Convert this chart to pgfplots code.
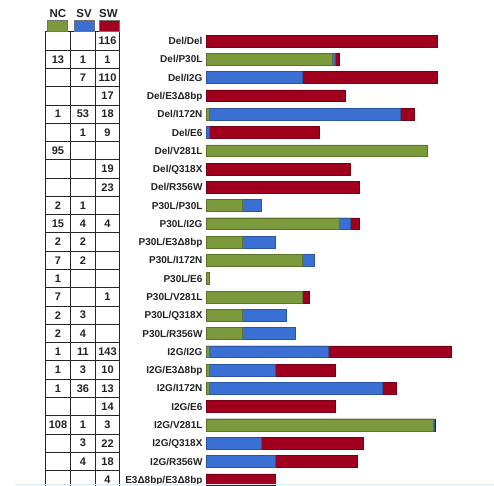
\documentclass[border=0pt]{standalone}
\usepackage{pgfplots}
\pgfplotsset{compat=1.18}
\usepackage{fontspec}
\setmainfont{Liberation Sans}
\definecolor{gNC}{HTML}{7A9A3C}
\definecolor{bSV}{HTML}{3A70D4}
\definecolor{rSW}{HTML}{A0001E}
\definecolor{tx}{HTML}{222222}
\begin{document}
\begin{tikzpicture}[x=1pt,y=1pt]
\useasboundingbox (0,0) rectangle (494,485);
\begin{axis}[
  at={(206pt,-3.86pt)}, anchor=south west,
  scale only axis, width=274pt, height=457pt,
  xmode=log, log origin x=infty, xmin=0.9394, xmax=283.5,
  ymin=0.5, ymax=25.5, y dir=reverse,
  hide x axis,
  axis y line*=left, y axis line style={draw=none},
  ytick={1,...,25}, major tick length=0pt,
  yticklabels={Del/Del, Del/P30L, Del/I2G, Del/E3Δ8bp, Del/I172N, Del/E6, Del/V281L, Del/Q318X, Del/R356W, P30L/P30L, P30L/I2G, P30L/E3Δ8bp, P30L/I172N, P30L/E6, P30L/V281L, P30L/Q318X, P30L/R356W, I2G/I2G, I2G/E3Δ8bp, I2G/I172N, I2G/E6, I2G/V281L, I2G/Q318X, I2G/R356W, E3Δ8bp/E3Δ8bp},
  yticklabel style={font=\bfseries\fontsize{10}{12}\selectfont, text=tx, text depth=0pt, text height=7.2pt},
  xbar, bar width=11.8pt,
  clip=false,
]
% SW (cumulative total)
\addplot[draw=rSW!75!black, line width=0.5pt, fill=rSW, bar shift=0pt] coordinates {
 (116,1) (15,2) (117,3) (17,4) (72,5) (10,6) (19,8) (23,9) (23,11) (8,15)
 (155,18) (14,19) (50,20) (14,21) (112,22) (25,23) (22,24) (4,25)};
% SV (cumulative NC+SV)
\addplot[draw=bSV!75!black, line width=0.5pt, fill=bSV, bar shift=0pt] coordinates {
 (14,2) (7,3) (54,5) (1,6) (3,10) (19,11) (4,12) (9,13) (5,16) (6,17)
 (12,18) (4,19) (37,20) (109,22) (3,23) (4,24)};
% NC
\addplot[draw=gNC!75!black, line width=0.5pt, fill=gNC, bar shift=0pt] coordinates {
 (13,2) (1,5) (95,7) (2,10) (15,11) (2,12) (7,13) (1,14) (7,15) (2,16)
 (2,17) (1,18) (1,19) (1,20) (108,22)};
\end{axis}
% table
\begin{scope}[line width=0.9pt, draw=black!85]
\foreach \xx in {45,70,95.7,119} \draw (\xx,453.14) -- (\xx,-5);
\foreach \r in {0,...,24} \draw (45,{453.14-\r*18.28}) -- (119,{453.14-\r*18.28});
\end{scope}
\foreach \r/\a/\b/\c in {1///116, 2/13/1/1, 3//7/110, 4///17, 5/1/53/18, 6//1/9, 7/95//, 8///19, 9///23, 10/2/1/, 11/15/4/4, 12/2/2/, 13/7/2/, 14/1//, 15/7//1, 16/2/3/, 17/2/4/, 18/1/11/143, 19/1/3/10, 20/1/36/13, 21///14, 22/108/1/3, 23//3/22, 24//4/18, 25///4}
{
 \pgfmathsetmacro\yy{444-(\r-1)*18.28}
 \node[font=\bfseries\fontsize{11}{12}\selectfont, text=tx] at (58,\yy) {\a};
 \node[font=\bfseries\fontsize{11}{12}\selectfont, text=tx] at (83,\yy) {\b};
 \node[font=\bfseries\fontsize{11}{12}\selectfont, text=tx] at (107.5,\yy) {\c};
}
% header
\node[font=\bfseries\fontsize{11.5}{13}\selectfont, text=tx] at (58,471) {NC};
\node[font=\bfseries\fontsize{11.5}{13}\selectfont, text=tx] at (84,471) {SV};
\node[font=\bfseries\fontsize{11.5}{13}\selectfont, text=tx] at (108.5,471) {SW};
\draw[fill=gNC, draw=black!55, line width=0.5pt] (47.7,454) rectangle (67.7,464.3);
\draw[fill=bSV, draw=black!55, line width=0.5pt] (74,454) rectangle (94,464.3);
\draw[fill=rSW, draw=black!55, line width=0.5pt] (99,454) rectangle (119,464.3);
\draw[color={rgb,255:red,215;green,236;blue,247}, line width=1pt] (15,1) -- (494,1);
\end{tikzpicture}
\end{document}
